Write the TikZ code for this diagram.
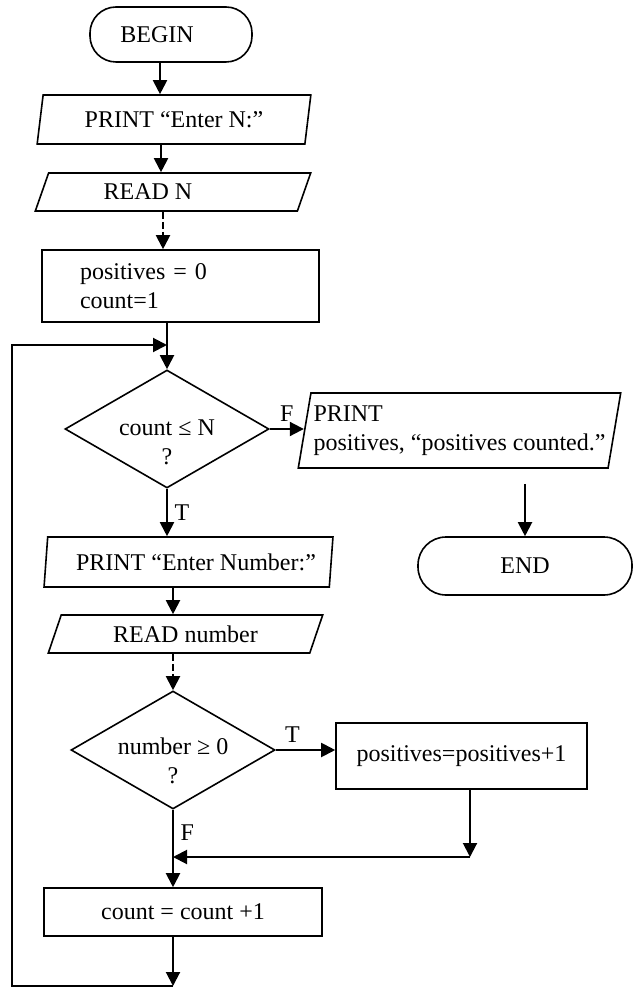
\documentclass[tikz,border=0pt]{standalone}
\usepackage{fontspec}
\setmainfont{Liberation Serif}
\usetikzlibrary{shapes.geometric,arrows.meta,positioning,calc}

\tikzset{
  term/.style={draw, rectangle, rounded corners=13pt, minimum height=27.5pt, inner sep=0pt},
  io/.style={draw, trapezium, trapezium stretches=true, inner sep=0pt},
  proc/.style={draw, rectangle, inner sep=0pt},
  dec/.style={draw, diamond, shape aspect=1.7, minimum width=102pt, minimum height=59pt, inner sep=0pt},
  arr/.style={line width=1pt, -{Triangle[length=7pt,width=7pt]}},
  dasharr/.style={arr, dash pattern=on 3.5pt off 1.5pt},
}
\newcommand{\qtext}[2][-10pt]{\raisebox{#1}[8pt][8pt]{\begin{tabular}{@{}c@{}}#2\end{tabular}}}

\begin{document}
\begin{tikzpicture}[x=0.5pt, y=-0.5pt, line width=0.8pt, font=\fontsize{12pt}{14.5pt}\selectfont]
\useasboundingbox (0,0) rectangle (633,988);
% main column
\node[term, minimum width=81pt] (begin) at (171,34.5) {BEGIN\hspace*{14pt}};
\node[io, trapezium left angle=76, trapezium right angle=104, minimum width=137pt, minimum height=24.5pt] (askn) at (174,119.5) {PRINT “Enter N:”};
\node[io, trapezium left angle=65, trapezium right angle=115, minimum width=138pt, minimum height=19pt] (readn) at (173,192) {READ N\hspace*{25pt}};
\node[proc, minimum width=138.5pt, minimum height=36pt, text width=100.5pt, inner xsep=19pt, align=left] (init) at (180.5,286) {positives = 0\\count=1};
\node[dec] (cond) at (167,429) {\qtext[-10.5pt]{count ≤ N\\?}};
\node[io, trapezium left angle=79, trapezium right angle=101, minimum width=144.5pt, minimum height=25pt] (asknum) at (188.5,562) {\hspace*{7.5pt}PRINT “Enter Number:”};
\node[io, trapezium left angle=66, trapezium right angle=114, minimum width=137.5pt, minimum height=19pt] (readnum) at (185.5,634) {READ number};
\node[dec] (sign) at (173,750) {\qtext[-9.5pt]{number ≥ 0\\?}};
\node[proc, minimum width=139pt, minimum height=24pt] (cnt) at (183,912) {count = count +1};
% right column
\node[io, trapezium left angle=76, trapezium right angle=104, minimum width=161.5pt, minimum height=37.5pt, align=left] (out) at (459.5,430.5) {PRINT\\positives, “positives counted.”};
\node[term, minimum width=107pt, minimum height=29pt, rounded corners=14pt] (end) at (525,566) {END};
\node[proc, minimum width=125.5pt, minimum height=33pt] (inc) at (461.5,756) {positives=positives+1};

% connectors
\draw[arr] (begin.south -| 160,0) -- (askn.north -| 160,0);
\draw[arr] (askn.south -| 161,0) -- (readn.north -| 161,0);
\draw[dasharr] (readn.south -| 163,0) -- (init.north -| 163,0);
\draw[arr] (init.south -| cond.north) -- (cond.north);
\draw[arr] (cond.east) -- node[above]{F} (out.west |- cond.east);
\draw[arr, shorten <=7.5pt] (out.south -| end.north) -- (end.north);
\draw[arr] (cond.south) -- node[right]{T} (asknum.north -| cond.south);
\draw[arr] (asknum.south -| 173,0) -- (readnum.north -| 173,0);
\draw[dasharr] (readnum.south -| sign.north) -- (sign.north);
\draw[arr] (sign.east) -- node[above, pos=0.28]{T} (inc.west |- sign.east);
\draw[arr] (sign.south) -- node[right, pos=0.3]{F} (cnt.north -| sign.south);
\coordinate (join) at (470,857);
\draw[arr] (inc.south -| join) -- (join);
\draw[arr] (join) -- (join -| sign.south);
% loop back
\coordinate (lowend) at (sign.south |- 0,986);
\coordinate (loopa) at (12,986);
\coordinate (loopb) at (12,345);
\coordinate (loopc) at (cond.north |- loopb);
\draw[arr] (cnt.south -| lowend) -- (lowend);
\draw[arr] (lowend) -- (loopa) -- (loopb) -- (loopc);
\end{tikzpicture}
\end{document}
